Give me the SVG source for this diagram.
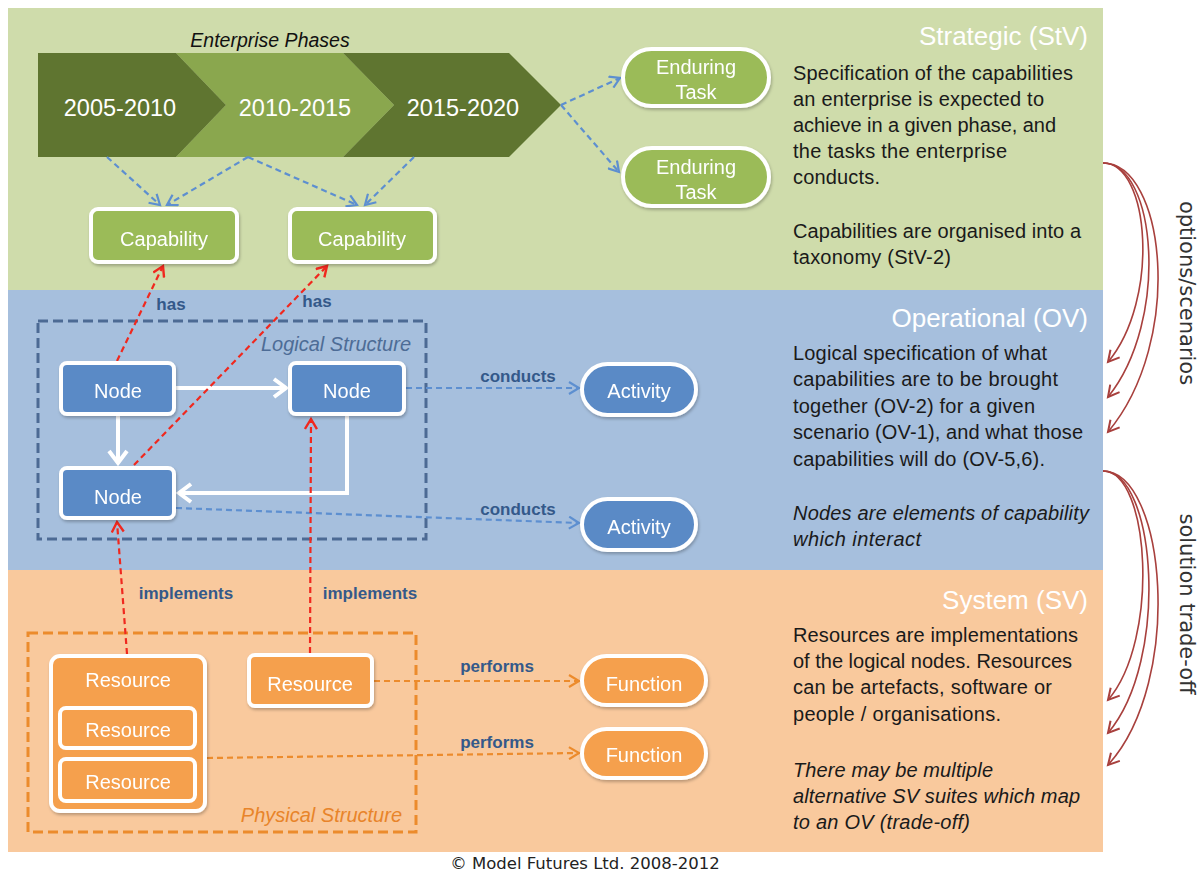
<svg xmlns="http://www.w3.org/2000/svg" width="1198" height="872" viewBox="0 0 1198 872">
<style>
text{font-family:"Liberation Sans",Arial,sans-serif}
.lbl{fill:#fff;font-size:20px;text-anchor:middle}
.yr{fill:#fff;font-size:23.5px;text-anchor:middle}
.title{fill:#fff;font-size:26px;text-anchor:end}
.desc{fill:#1a1a1a;font-size:20px}
.it{font-style:italic}
.clbl{fill:#34598a;font-size:17px;font-weight:bold}
.grn{fill:#9bbb59;stroke:#fff;stroke-width:4}
.blu{fill:#5a8ac6;stroke:#fff;stroke-width:4}
.org{fill:#f5a04d;stroke:#fff;stroke-width:4}
.bdash{fill:none;stroke:#5d8fd0;stroke-width:2.2;stroke-dasharray:6 4}
.odash{fill:none;stroke:#ec8b2c;stroke-width:2.2;stroke-dasharray:6 4}
.rdash{fill:none;stroke:#f0281e;stroke-width:2.2;stroke-dasharray:6 4}
.wht{fill:none;stroke:#fff;stroke-width:4}
.arc{fill:none;stroke:#a8403d;stroke-width:1.6}
.side{fill:#333;font-family:"DejaVu Sans",Verdana,sans-serif;font-size:21px;text-anchor:middle}
.copy{fill:#222;font-family:"DejaVu Sans",Verdana,sans-serif;font-size:16.5px;text-anchor:middle}
</style>
<defs>
<filter id="sh" x="-10%" y="-10%" width="130%" height="140%"><feDropShadow dx="1" dy="2" stdDeviation="1.5" flood-color="#000" flood-opacity="0.25"/></filter>
<marker id="ab" markerUnits="userSpaceOnUse" markerWidth="14" markerHeight="14" refX="11" refY="7" orient="auto"><path d="M1,1 L11,7 L1,13" fill="none" stroke="#5d8fd0" stroke-width="2.2"/></marker>
<marker id="ao" markerUnits="userSpaceOnUse" markerWidth="14" markerHeight="14" refX="11" refY="7" orient="auto"><path d="M1,1 L11,7 L1,13" fill="none" stroke="#ec8b2c" stroke-width="2.2"/></marker>
<marker id="ar" markerUnits="userSpaceOnUse" markerWidth="14" markerHeight="14" refX="11" refY="7" orient="auto"><path d="M1,1 L11,7 L1,13" fill="none" stroke="#f0281e" stroke-width="2.4"/></marker>
<marker id="aw" markerUnits="userSpaceOnUse" markerWidth="18" markerHeight="22" refX="14" refY="11" orient="auto"><path d="M2,2 L14,11 L2,20" fill="none" stroke="#fff" stroke-width="4"/></marker>
<marker id="ad" markerUnits="userSpaceOnUse" markerWidth="16" markerHeight="16" refX="12" refY="8" orient="auto"><path d="M1,2 L12,8 L1,14" fill="none" stroke="#a8403d" stroke-width="2"/></marker>
</defs>
<rect width="1198" height="872" fill="#fff"/>
<g id="bands">
<rect x="8" y="8" width="1095" height="282" fill="#cfdcab"/>
<rect x="8" y="290" width="1095" height="280" fill="#a6bfdd"/>
<rect x="8" y="570" width="1095" height="282" fill="#f9c99d"/>
<text class="title" x="1088" y="45">Strategic (StV)</text>
<text class="title" x="1088" y="327">Operational (OV)</text>
<text class="title" x="1088" y="609">System (SV)</text>
</g>
<g id="stv-text">
<text class="desc" x="793" y="80" textLength="280">Specification of the capabilities</text>
<text class="desc" x="793" y="106" textLength="251">an enterprise is expected to</text>
<text class="desc" x="793" y="132" textLength="263">achieve in a given phase, and</text>
<text class="desc" x="793" y="158" textLength="214">the tasks the enterprise</text>
<text class="desc" x="793" y="184" textLength="87">conducts.</text>
<text class="desc" x="793" y="238" textLength="288">Capabilities are organised into a</text>
<text class="desc" x="793" y="264" textLength="158">taxonomy (StV-2)</text>
</g>
<g id="ov-text">
<text class="desc" x="793" y="360" textLength="254">Logical specification of what</text>
<text class="desc" x="793" y="386" textLength="265">capabilities are to be brought</text>
<text class="desc" x="793" y="413" textLength="242">together (OV-2) for a given</text>
<text class="desc" x="793" y="439" textLength="290">scenario (OV-1), and what those</text>
<text class="desc" x="793" y="466" textLength="252">capabilities will do (OV-5,6).</text>
<text class="desc it" x="793" y="520" textLength="296">Nodes are elements of capability</text>
<text class="desc it" x="793" y="546" textLength="128">which interact</text>
</g>
<g id="sv-text">
<text class="desc" x="793" y="642" textLength="285">Resources are implementations</text>
<text class="desc" x="793" y="668" textLength="279">of the logical nodes. Resources</text>
<text class="desc" x="793" y="694" textLength="259">can be artefacts, software or</text>
<text class="desc" x="793" y="721" textLength="208">people / organisations.</text>
<text class="desc it" x="793" y="777" textLength="200">There may be multiple</text>
<text class="desc it" x="793" y="803" textLength="287">alternative SV suites which map</text>
<text class="desc it" x="793" y="829" textLength="177">to an OV (trade-off)</text>
</g>
<g id="phases">
<text x="270" y="47" font-size="19.5" font-style="italic" fill="#111" text-anchor="middle">Enterprise Phases</text>
<polygon points="176,53 343,53 394,105 343,157 176,157 226,105" fill="#8aa74e"/>
<polygon points="343,53 509,53 561,105 509,157 343,157 394,105" fill="#5f7530"/>
<polygon points="38,53 176,53 226,105 176,157 38,157" fill="#5f7530"/>
<text class="yr" x="120" y="116">2005-2010</text>
<text class="yr" x="295" y="116">2010-2015</text>
<text class="yr" x="463" y="116">2015-2020</text>
</g>
<g id="logical-structure">
<rect x="38" y="321" width="388" height="218" fill="none" stroke="#4c6a94" stroke-width="3" stroke-dasharray="10 5"/>
<text x="411" y="351" font-size="20" font-style="italic" fill="#4d6c96" text-anchor="end">Logical Structure</text>
</g>
<g id="physical-structure">
<rect x="28" y="633" width="388" height="199" fill="none" stroke="#ec8b2c" stroke-width="3" stroke-dasharray="10 5"/>
<text x="402" y="822" font-size="20" font-style="italic" fill="#e8842a" text-anchor="end">Physical Structure</text>
</g>
<g id="connectors">
<path class="bdash" d="M107,157 L160,205" marker-end="url(#ab)"/>
<path class="bdash" d="M248,157 L167,205" marker-end="url(#ab)"/>
<path class="bdash" d="M248,157 L357,205" marker-end="url(#ab)"/>
<path class="bdash" d="M414,157 L365,205" marker-end="url(#ab)"/>
<path class="bdash" d="M561,105 L620,78" marker-end="url(#ab)"/>
<path class="bdash" d="M561,105 L619,172" marker-end="url(#ab)"/>
<path class="wht" d="M176,388 H286" marker-end="url(#aw)"/>
<path class="wht" d="M118,416 V463" marker-end="url(#aw)"/>
<path class="wht" d="M347,416 V493 H179" marker-end="url(#aw)"/>
<path class="bdash" d="M406,388 H579" marker-end="url(#ab)"/>
<path class="bdash" d="M176,508 L579,523" marker-end="url(#ab)"/>
<text class="clbl" x="518" y="382" text-anchor="middle">conducts</text>
<text class="clbl" x="518" y="515" text-anchor="middle">conducts</text>
<path class="odash" d="M374,681 H579" marker-end="url(#ao)"/>
<path class="odash" d="M207,758 L579,753" marker-end="url(#ao)"/>
<text class="clbl" x="497" y="672" text-anchor="middle">performs</text>
<text class="clbl" x="497" y="748" text-anchor="middle">performs</text>
<path class="rdash" d="M117,361 L163,266" marker-end="url(#ar)"/>
<path class="rdash" d="M134,465 L327,266" marker-end="url(#ar)"/>
<path class="rdash" d="M127,654 L117,522" marker-end="url(#ar)"/>
<path class="rdash" d="M310,653 L311,419" marker-end="url(#ar)"/>
<text class="clbl" x="171" y="310" text-anchor="middle">has</text>
<text class="clbl" x="317" y="307" text-anchor="middle">has</text>
<text class="clbl" x="186" y="599" text-anchor="middle">implements</text>
<text class="clbl" x="370" y="599" text-anchor="middle">implements</text>
<path class="arc" d="M1103,163 C1150,163 1160,300 1108,362" marker-end="url(#ad)"/>
<path class="arc" d="M1103,163 C1156,163 1170,320 1108,397" marker-end="url(#ad)"/>
<path class="arc" d="M1103,163 C1165,163 1185,340 1108,432" marker-end="url(#ad)"/>
<path class="arc" d="M1103,471 C1150,471 1160,640 1108,700" marker-end="url(#ad)"/>
<path class="arc" d="M1103,471 C1156,471 1170,660 1108,733" marker-end="url(#ad)"/>
<path class="arc" d="M1103,471 C1165,471 1185,680 1108,765" marker-end="url(#ad)"/>
<text class="side" transform="translate(1180,293) rotate(90)">options/scenarios</text>
<text class="side" transform="translate(1180,604) rotate(90)">solution trade-off</text>
</g>
<g id="capability-1" filter="url(#sh)"><rect class="grn" x="91" y="209" width="146" height="53" rx="7"/><text class="lbl" x="164" y="246">Capability</text></g>
<g id="capability-2" filter="url(#sh)"><rect class="grn" x="290" y="209" width="145" height="53" rx="7"/><text class="lbl" x="362" y="246">Capability</text></g>
<g id="enduring-task-1" filter="url(#sh)"><rect class="grn" x="623" y="49" width="146" height="57" rx="28.5"/><text class="lbl" x="696" y="74">Enduring</text><text class="lbl" x="696" y="99">Task</text></g>
<g id="enduring-task-2" filter="url(#sh)"><rect class="grn" x="623" y="148" width="146" height="58" rx="29"/><text class="lbl" x="696" y="174">Enduring</text><text class="lbl" x="696" y="199">Task</text></g>
<g id="node-1" filter="url(#sh)"><rect class="blu" x="61" y="363" width="113" height="51" rx="6"/><text class="lbl" x="118" y="398">Node</text></g>
<g id="node-2" filter="url(#sh)"><rect class="blu" x="290" y="363" width="114" height="51" rx="6"/><text class="lbl" x="347" y="398">Node</text></g>
<g id="node-3" filter="url(#sh)"><rect class="blu" x="61" y="468" width="113" height="50" rx="6"/><text class="lbl" x="118" y="504">Node</text></g>
<g id="activity-1" filter="url(#sh)"><rect class="blu" x="582" y="364" width="114" height="51" rx="25.5"/><text class="lbl" x="639" y="398">Activity</text></g>
<g id="activity-2" filter="url(#sh)"><rect class="blu" x="582" y="499" width="114" height="51" rx="25.5"/><text class="lbl" x="639" y="534">Activity</text></g>
<g id="resource-group" filter="url(#sh)"><rect class="org" x="51" y="656" width="154" height="155" rx="9"/><text class="lbl" x="128" y="687">Resource</text>
<rect class="org" x="60" y="708" width="135" height="40" rx="6" stroke-width="3"/><text class="lbl" x="128" y="737">Resource</text>
<rect class="org" x="60" y="759" width="135" height="42" rx="6" stroke-width="3"/><text class="lbl" x="128" y="789">Resource</text></g>
<g id="resource-2" filter="url(#sh)"><rect class="org" x="249" y="655" width="123" height="51" rx="6"/><text class="lbl" x="310" y="691">Resource</text></g>
<g id="function-1" filter="url(#sh)"><rect class="org" x="582" y="656" width="124" height="49" rx="24.5"/><text class="lbl" x="644" y="691">Function</text></g>
<g id="function-2" filter="url(#sh)"><rect class="org" x="582" y="729" width="124" height="49" rx="24.5"/><text class="lbl" x="644" y="762">Function</text></g>
<text class="copy" x="585" y="869">© Model Futures Ltd. 2008-2012</text>
</svg>
